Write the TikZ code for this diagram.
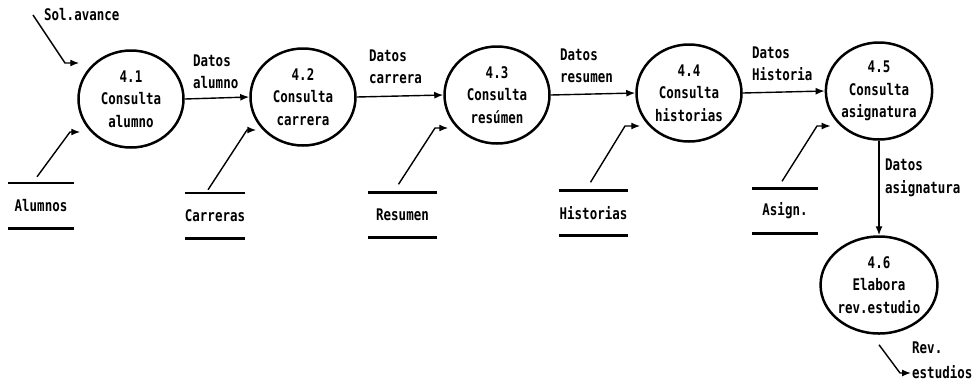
\documentclass[tikz,border=0pt]{standalone}
\usepackage{fontspec}
\usetikzlibrary{arrows.meta,calc,shapes.geometric}
\newfontfamily\dfdfont{DejaVu Sans Mono}[FakeStretch=0.78]
\begin{document}
\begin{tikzpicture}[x=1pt,y=-1pt,
  every node/.style={font=\dfdfont\bfseries\fontsize{16}{22.5}\selectfont, inner sep=0pt},
  process/.style={ellipse, draw, line width=2.5pt, minimum width=105pt, minimum height=97pt, align=center},
  store/.style={minimum height=45pt},
  storeline/.style={line width=2.6pt},
  flow/.style={line width=1.4pt, -{Latex[length=9pt,width=7pt]}},
  flowlabel/.style={align=left, anchor=west}]
\useasboundingbox (0,0) rectangle (976,384);

% processes
\node[process] (n41) at (131,99) {4.1\\Consulta\\alumno};
\node[process] (n42) at (303,97) {4.2\\Consulta\\carrera};
\node[process] (n43) at (497,95) {4.3\\Consulta\\resúmen};
\node[process] (n44) at (689,93) {4.4\\Consulta\\historias};
\node[process] (n45) at (879,91) {4.5\\Consulta\\asignatura};
\node[process] (n46) at (879,285) {4.6\\Elabora\\rev.estudio};

% data stores
\node[store, minimum width=66pt] (alumnos)   at (41,205.5)  {Alumnos};
\node[store, minimum width=60pt] (carreras)  at (215,215.5) {Carreras};
\node[store, minimum width=69pt] (resumen)   at (402.5,215) {Resumen};
\node[store, minimum width=67pt] (historias) at (593.5,213) {Historias};
\node[store, minimum width=66pt] (asign)     at (785,211)   {Asign.};
\foreach \s in {alumnos,carreras,resumen,historias,asign}{
  \draw[storeline] (\s.north west) -- (\s.north east);
  \draw[storeline] (\s.south west) -- (\s.south east);
}

% flows between processes
\draw[flow] (n41.east) -- (n42.west);
\draw[flow] (n42.east) -- (n43.west);
\draw[flow] (n43.east) -- (n44.west);
\draw[flow] (n44.east) -- (n45.west);
\draw[flow] (n45.south) -- (n46.north);

\node[flowlabel] (l12) at (193,72) {Datos\\alumno};
\node[flowlabel] (l23) at (369,67) {Datos\\carrera};
\node[flowlabel] (l34) at (560,66) {Datos\\resumen};
\node[flowlabel] (l45) at (752,64) {Datos\\Historia};
\node[flowlabel] (l56) at (885,178) {Datos\\asignatura};

% external input
\node[anchor=west] (solav) at (44,15) {Sol.avance};
\coordinate (s0) at (33,15);
\coordinate (s1) at (65,63);
\draw[flow] (s0) -- (s1) -- ($(s1 -| n41.west)+(2,0)$);

% store reads
\coordinate (a1) at (70,132);
\draw[flow] ($(alumnos.north)+(-4,-6)$) -- (a1) -- ($(a1 -| n41.west)+(3,0)$);
\coordinate (c1) at (247,130);
\draw[flow] ($(carreras.north)+(-7,-3)$) -- (c1) -- ($(c1 -| n42.west)+(7,0)$);
\coordinate (r1) at (435,128);
\draw[flow] ($(resumen.north)+(-4,-8)$) -- (r1) -- ($(r1 -| n43.west)+(5,0)$);
\coordinate (h1) at (625,126);
\draw[flow] ($(historias.north)+(-3,-8)$) -- (h1) -- ($(h1 -| n44.west)+(5,0)$);
\coordinate (g1) at (817,126);
\draw[flow] ($(asign.north)+(-3,-7)$) -- (g1) -- ($(g1 -| n45.west)+(6,0)$);

% output
\coordinate (o1) at (900,373);
\coordinate (o2) at (911,373);
\draw[flow] ($(n46.south)+(0,10)$) -- (o1) -- (o2);
\node[flowlabel] (rev) at (912,360.5) {Rev.\\[3pt]estudios};
\end{tikzpicture}
\end{document}
